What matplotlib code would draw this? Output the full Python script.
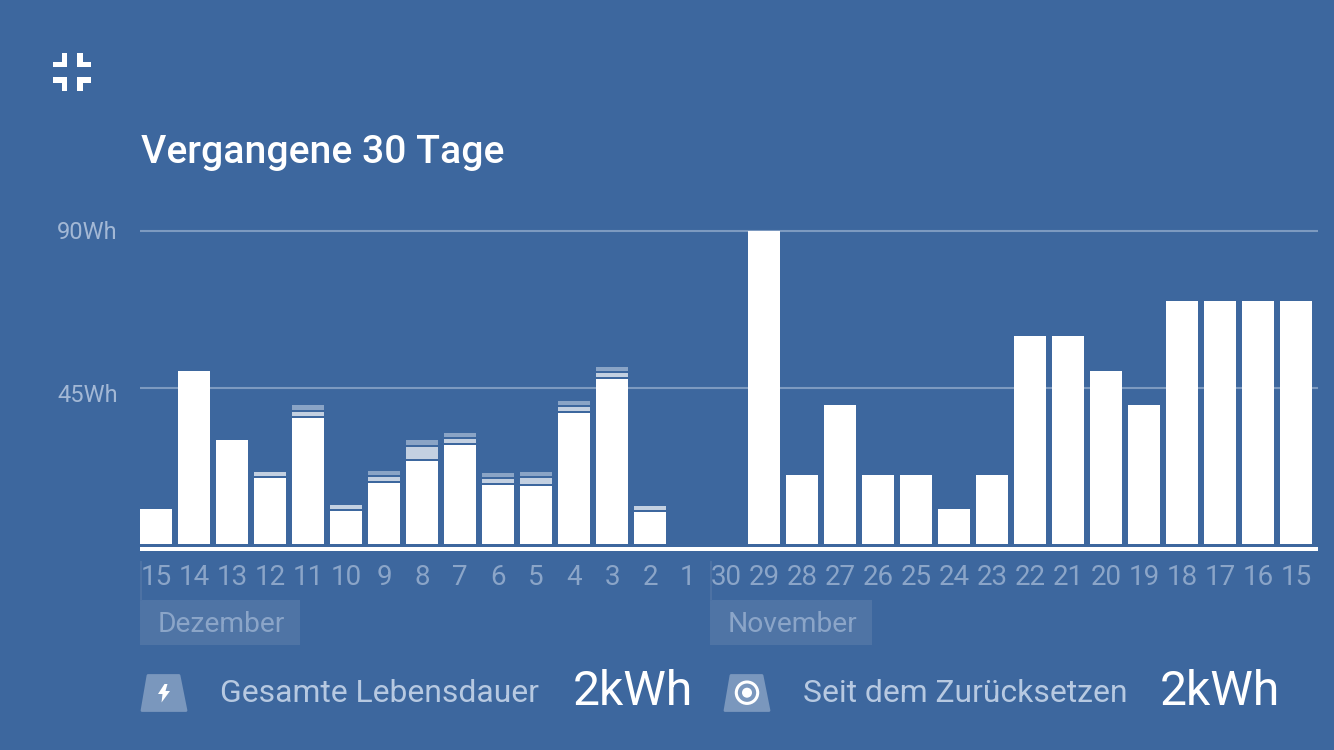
import matplotlib
matplotlib.use('Agg')
import matplotlib.pyplot as plt
import matplotlib.transforms as mtransforms
from matplotlib.patches import Polygon, Circle, Rectangle

plt.rcParams['font.family'] = ['Roboto', 'DejaVu Sans']

BG = '#3d679e'
TICK = '#8ba5c8'
Y_TICK = '#a3b8d5'
GRID = '#7d9ac0'
LIGHT = '#c3d0e1'
MEDIUM = '#8aa4c6'

# one entry per day, newest first, Wh
days = ['15', '14', '13', '12', '11', '10', '9', '8', '7', '6', '5', '4', '3', '2', '1',
        '30', '29', '28', '27', '26', '25', '24', '23', '22', '21', '20', '19', '18', '17', '16', '15']
solid = [10.1, 49.7, 29.9, 19.0, 36.2, 9.5, 17.5, 23.9, 28.5, 17.0, 16.7, 37.7, 47.4, 9.2, 0,
         0, 90, 19.8, 40, 19.8, 19.8, 10, 19.8, 59.8, 59.8, 49.7, 40, 70, 70, 70, 70]
light = [0, 0, 0, 1.15, 1.15, 1.15, 1.15, 3.45, 1.15, 1.15, 1.7, 1.15, 1.15, 1.15, 0,
         0, 0, 0, 0, 0, 0, 0, 0, 0, 0, 0, 0, 0, 0, 0, 0]
medium = [0, 0, 0, 0, 1.44, 0, 1.15, 1.44, 1.15, 1.15, 1.15, 1.15, 1.15, 0, 0,
          0, 0, 0, 0, 0, 0, 0, 0, 0, 0, 0, 0, 0, 0, 0, 0]
y_ticks = [45, 90]
y_labels = ['45Wh', '90Wh']
months = ['Dezember', 'November']
title = 'Vergangene 30 Tage'
total_label = 'Gesamte Lebensdauer'
reset_label = 'Seit dem Zurücksetzen'
total_value = '2kWh'
reset_value = '2kWh'

W, H = 1334, 750
fig = plt.figure(figsize=(W / 100, H / 100), dpi=100, facecolor=BG)

# overlay in pixel coordinates for the icons and the footer
over = fig.add_axes([0, 0, 1, 1], zorder=0)
over.set_xlim(0, W)
over.set_ylim(H, 0)
over.axis('off')

# chart axes: left 140, right 1318, zero at y 544, 90Wh at y 231
ax = fig.add_axes([140 / W, 1 - 544 / H, (1318 - 140) / W, (544 - 231) / H], zorder=1)
ax.patch.set_alpha(0)
ax.set_xlim(-16 / 38, (1318 - 156) / 38)
ax.set_ylim(0, 90)

x = list(range(len(days)))
gap = 0.58  # space between the stacked parts
light_bottom = [s + gap for s in solid]
medium_bottom = [s + gap + l + gap for s, l in zip(solid, light)]
ax.bar(x, solid, width=32 / 38, color='white', zorder=3)
ax.bar(x, light, width=32 / 38, bottom=light_bottom, color=LIGHT, zorder=3)
ax.bar(x, medium, width=32 / 38, bottom=medium_bottom, color=MEDIUM, zorder=3)

ax.set_axisbelow(True)
ax.yaxis.grid(True, color=GRID, linewidth=1.5, zorder=1)
ax.xaxis.grid(False)
for side in ['top', 'left', 'right']:
    ax.spines[side].set_visible(False)
ax.spines['bottom'].set_position(('outward', 3.6))
ax.spines['bottom'].set_color('white')
ax.spines['bottom'].set_linewidth(2.88)
ax.spines['bottom'].set_capstyle('butt')

ax.set_xticks(x)
ax.set_xticklabels(days, fontsize=20, color=TICK)
ax.set_yticks(y_ticks)
ax.set_yticklabels(y_labels, fontsize=17, color=Y_TICK)
ax.tick_params(axis='x', length=0, pad=10.8)
ax.tick_params(axis='y', length=0, pad=16)
# the 90Wh line lies on the axes edge, do not cut it in half
for line in ax.get_ygridlines():
    line.set_clip_on(False)
    line.set_solid_capstyle('butt')
# the labels do not sit quite on their grid lines
labs = ax.get_yticklabels()
labs[0].set_transform(labs[0].get_transform() + mtransforms.ScaledTranslation(0, -6 / 100, fig.dpi_scale_trans))
labs[1].set_transform(labs[1].get_transform() + mtransforms.ScaledTranslation(0, 1 / 100, fig.dpi_scale_trans))

fig.text(141 / W, 1 - 152.5 / H, title, fontsize=28.2, fontweight=500, color='white', ha='left', va='center')

# month boxes
for name, x0, x1 in zip(months, [140, 710], [300, 872]):
    over.add_patch(Rectangle((x0, 600), x1 - x0, 45, color='#4f74a5', lw=0))
    over.plot([x0 + 1, x0 + 1], [562, 600], color='#4d72a4', lw=1.44)
    over.text((x0 + x1) / 2 + 1, 624, name, fontsize=20.3, color=TICK, ha='center', va='center')

# footer
over.text(220, 693, total_label, fontsize=22.95, color='#b7c9e1', ha='left', va='center')
over.text(573, 692, total_value, fontsize=34.6, color='white', ha='left', va='center')
over.text(803, 693, reset_label, fontsize=22.95, color='#b7c9e1', ha='left', va='center')
over.text(1160, 692, reset_value, fontsize=34.6, color='white', ha='left', va='center')

# footer icons
for x0 in [140, 723]:
    over.add_patch(Polygon([(x0 + 2, 710.5), (x0 + 8, 675.5), (x0 + 39, 675.5), (x0 + 46, 710.5)],
                           closed=True, facecolor='#7a97bd', edgecolor='#7a97bd',
                           lw=2, joinstyle='round'))
over.add_patch(Polygon([(164.5, 684), (158, 694), (162.5, 694), (161.5, 702.5), (170, 691),
                        (165.5, 691), (167.5, 684)], closed=True, color='white', lw=0))
over.add_patch(Circle((747, 692.7), 10.7, facecolor='none', edgecolor='white', lw=2.2))
over.add_patch(Circle((747, 692.7), 5, color='white', lw=0))

# collapse icon, four corners
corners = [
    [(53, 61.5), (61.5, 61.5), (61.5, 53), (67, 53), (67, 67), (53, 67)],
    [(91, 61.5), (82.5, 61.5), (82.5, 53), (77, 53), (77, 67), (91, 67)],
    [(53, 82.5), (61.5, 82.5), (61.5, 91), (67, 91), (67, 77), (53, 77)],
    [(91, 82.5), (82.5, 82.5), (82.5, 91), (77, 91), (77, 77), (91, 77)],
]
for pts in corners:
    over.add_patch(Polygon(pts, closed=True, color='white', lw=0))

fig.savefig('out.png', dpi=100, facecolor=BG)
